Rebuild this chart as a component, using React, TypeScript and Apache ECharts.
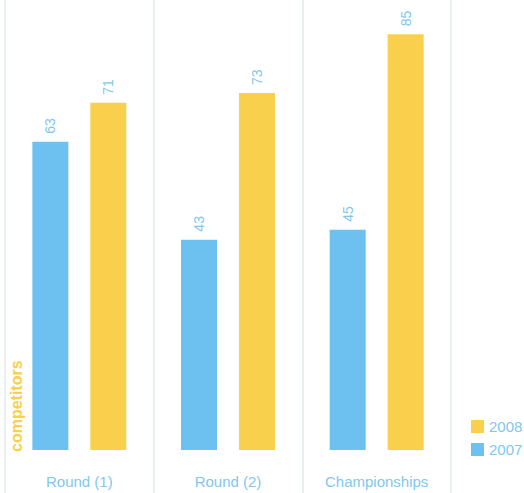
import React, { useEffect, useRef } from "react";
import * as echarts from "echarts";

const categories = ["Round (1)", "Round (2)", "Championships"];
const values2007 = [63, 43, 45];
const values2008 = [71, 73, 85];
const seriesNames = ["2007", "2008"];
const legendOrder = ["2008", "2007"];
const yAxisTitle = "competitors";

const BLUE = "#6cc1f1";
const YELLOW = "#f8d04c";
const TEXT_BLUE = "#80c8ef";

export default function App() {
  const ref = useRef<HTMLDivElement>(null);
  useEffect(() => {
    if (!ref.current) return;
    const chart = echarts.init(ref.current, undefined, { renderer: "svg" });
    const label = {
      show: true,
      position: "top" as const,
      rotate: 90,
      align: "left" as const,
      verticalAlign: "middle" as const,
      distance: 8,
      color: TEXT_BLUE,
      fontSize: 14,
      fontFamily: "Liberation Sans, Arial, sans-serif",
    };
    chart.setOption({
      animation: false,
      backgroundColor: "#ffffff",
      grid: {
        left: 5,
        right: 73,
        top: 0,
        bottom: 0,
        containLabel: false,
        outerBoundsMode: "none",
      },
      legend: {
        data: legendOrder,
        orient: "vertical",
        left: 466,
        top: 414,
        itemWidth: 13,
        itemHeight: 13,
        itemGap: 8,
        icon: "rect",
        textStyle: {
          color: TEXT_BLUE,
          fontSize: 15,
          fontFamily: "Liberation Sans, Arial, sans-serif",
        },
      },
      xAxis: {
        type: "category",
        data: categories,
        axisLine: { show: false, onZero: false },
        axisTick: { show: false },
        splitLine: { show: true, lineStyle: { color: "#e9f0f2", width: 2 } },
        axisLabel: {
          color: TEXT_BLUE,
          fontSize: 15,
          margin: -19,
          fontFamily: "Liberation Sans, Arial, sans-serif",
        },
      },
      yAxis: {
        type: "value",
        min: -8.8,
        max: 92,
        show: false,
        splitLine: { show: false },
      },
      graphic: [
        {
          type: "text",
          x: 16,
          y: 452,
          rotation: Math.PI / 2,
          style: {
            text: yAxisTitle,
            fill: YELLOW,
            fontSize: 16,
            fontWeight: "bold",
            fontFamily: "Liberation Sans, Arial, sans-serif",
            align: "left",
            verticalAlign: "middle",
          },
        },
      ],
      series: [
        {
          name: seriesNames[0],
          type: "bar",
          data: values2007,
          barWidth: 36,
          barGap: "61%",
          itemStyle: { color: BLUE },
          label,
        },
        {
          name: seriesNames[1],
          type: "bar",
          data: values2008,
          barWidth: 36,
          barGap: "61%",
          itemStyle: { color: YELLOW },
          label,
        },
      ],
    });
    return () => chart.dispose();
  }, []);
  return <div ref={ref} style={{ width: 524, height: 493, position: "absolute", left: 0, top: 0 }} />;
}
